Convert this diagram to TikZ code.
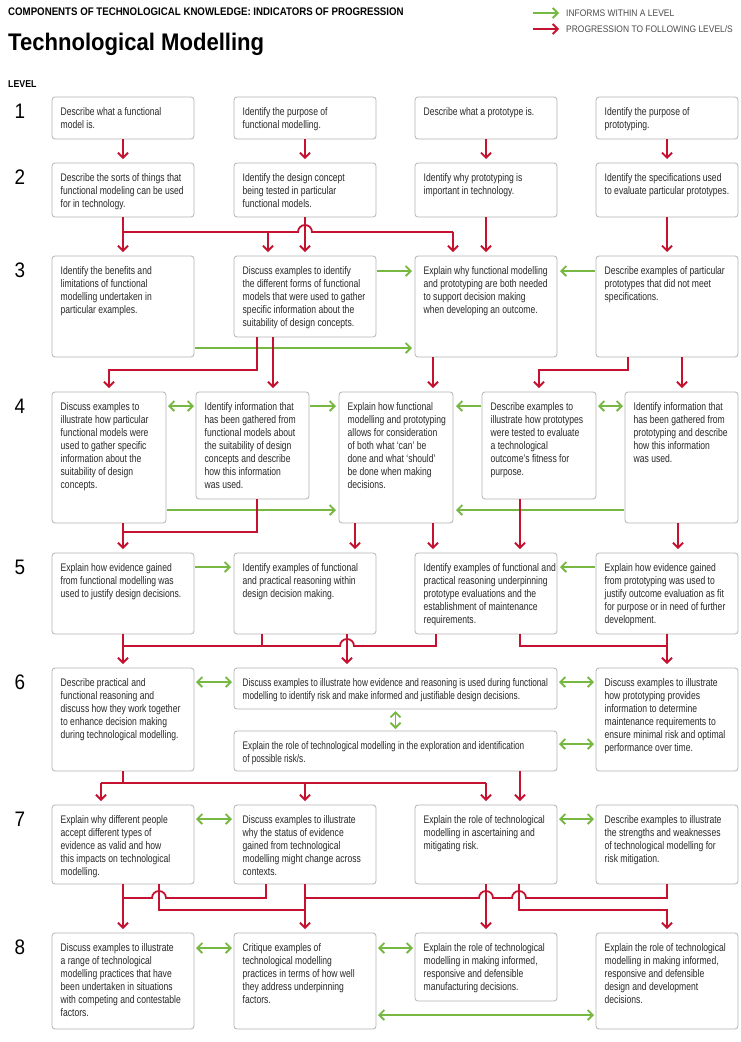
\documentclass[tikz,border=0pt]{standalone}
\usepackage{fontspec}
\setmainfont{Liberation Sans}
\newfontfamily\bodyf{Liberation Sans}[FakeStretch=0.78]
\newfontfamily\bodyn{Liberation Sans}[FakeStretch=0.745]
\newfontfamily\titlef{Liberation Sans}[FakeStretch=0.88]
\newfontfamily\bigf{Liberation Sans}[FakeStretch=0.92]
\newfontfamily\legf{Liberation Sans}[FakeStretch=0.89]
\newfontfamily\numf{Liberation Sans}[FakeStretch=0.9]
\usetikzlibrary{arrows.meta}
\definecolor{tred}{RGB}{196,18,48}
\definecolor{tgreen}{RGB}{118,184,66}
\definecolor{tbord}{RGB}{180,180,180}
\definecolor{ttext}{RGB}{40,40,40}
\newcommand\mybox[6]{%
  \node[box, minimum width=#4pt, minimum height=#5pt] (#1) at (#2,#3) {};
  \node[txt] (#1t) at ([xshift=8.5pt,yshift=-10pt]#1.north west) {#6};}
\newcommand\lvlno[2]{\node[lvlnum] (lv#1) at (20,#2) {#1};}
\newcommand\vdrop[2]{\path #1 coordinate (vd); \draw[ra] (vd) -- (vd |- #2.north);}
\newcommand\gr[3]{\path #2 coordinate (gs); \draw[#1] (gs) -- (gs -| #3);}
\begin{document}
\begin{tikzpicture}[x=1pt,y=-1pt,
 box/.style={draw=tbord, line width=0.8pt, rounded corners=3pt, fill=white, anchor=north west, inner sep=0pt, outer sep=0pt},
 txt/.style={anchor=north west, inner sep=0pt, align=left, font=\bodyf\fontsize{11}{13}\selectfont, text=ttext},
 txtn/.style={txt, font=\bodyn\fontsize{11}{13}\selectfont},
 rl/.style={draw=tred, line width=1.8pt},
 ra/.style={rl, -{Straight Barb[length=5pt,width=10pt]}, shorten >=4pt},
 ga/.style={draw=tgreen, line width=1.8pt, -{Straight Barb[length=5pt,width=10pt]}, shorten >=3pt, shorten <=1pt},
 gd/.style={draw=tgreen, line width=1.8pt, {Straight Barb[length=5pt,width=10pt]}-{Straight Barb[length=5pt,width=10pt]}, shorten >=2pt, shorten <=2pt},
 lvlnum/.style={anchor=base, inner sep=0pt, font=\numf\fontsize{21}{21}\selectfont, text=black},
]
\fill[white] (0,0) rectangle (740,1042);
\useasboundingbox (0,0) rectangle (740,1042);

% headings
\node[anchor=west, inner sep=0pt, font=\titlef\bfseries\fontsize{11}{13}\selectfont] (hd) at (8,12) {COMPONENTS OF TECHNOLOGICAL KNOWLEDGE: INDICATORS OF PROGRESSION};
\node[anchor=base west, inner sep=0pt, font=\bigf\bfseries\fontsize{24}{28}\selectfont] (tt) at (8,50) {Technological Modelling};
\node[anchor=base west, inner sep=0pt, font=\titlef\bfseries\fontsize{10}{12}\selectfont] (lvl) at (8,87) {LEVEL};

% legend
\coordinate (lg1) at (533,13); \coordinate (lg2) at (559,13);
\coordinate (lg3) at (533,29); \coordinate (lg4) at (559,29);
\draw[ga, shorten >=0pt, shorten <=0pt] (lg1) -- (lg2);
\draw[ra, shorten >=0pt] (lg3) -- (lg4);
\node[anchor=west, inner sep=0pt, font=\legf\fontsize{9.5}{11}\selectfont, text=black!70] (lgt1) at (566,13) {INFORMS WITHIN A LEVEL};
\node[anchor=west, inner sep=0pt, font=\legf\fontsize{9.5}{11}\selectfont, text=black!70] (lgt2) at (566,29) {PROGRESSION TO FOLLOWING LEVEL/S};

% level numbers
\lvlno{1}{118.5}
\lvlno{2}{184.5}
\lvlno{3}{277.5}
\lvlno{4}{413.5}
\lvlno{5}{574.5}
\lvlno{6}{689.5}
\lvlno{7}{826.5}
\lvlno{8}{954.5}

% row 1
\mybox{a1}{52}{97}{142}{42}{Describe what a functional\\model is.}
\mybox{b1}{234}{97}{142}{42}{Identify the purpose of\\functional modelling.}
\mybox{c1}{415}{97}{142}{42}{Describe what a prototype is.}
\mybox{d1}{596}{97}{142}{42}{Identify the purpose of\\prototyping.}
% row 2
\mybox{a2}{52}{163}{142}{54}{Describe the sorts of things that\\functional modeling can be used\\for in technology.}
\mybox{b2}{234}{163}{142}{54}{Identify the design concept\\being tested in particular\\functional models.}
\mybox{c2}{415}{163}{142}{54}{Identify why prototyping is\\important in technology.}
\mybox{d2}{596}{163}{142}{54}{Identify the specifications used\\to evaluate particular prototypes.}
% row 3
\mybox{a3}{52}{256}{142}{101}{Identify the benefits and\\limitations of functional\\modelling undertaken in\\particular examples.}
\mybox{b3}{234}{256}{142}{81}{Discuss examples to identify\\the different forms of functional\\models that were used to gather\\specific information about the\\suitability of design concepts.}
\mybox{c3}{415}{256}{142}{101}{Explain why functional modelling\\and prototyping are both needed\\to support decision making\\when developing an outcome.}
\mybox{d3}{596}{256}{142}{101}{Describe examples of particular\\prototypes that did not meet\\specifications.}
% row 4
\mybox{a4}{52}{392}{114}{131}{Discuss examples to\\illustrate how particular\\functional models were\\used to gather specific\\information about the\\suitability of design\\concepts.}
\mybox{b4}{196}{392}{113}{107}{Identify information that\\has been gathered from\\functional models about\\the suitability of design\\concepts and describe\\how this information\\was used.}
\mybox{c4}{339}{392}{114}{131}{Explain how functional\\modelling and prototyping\\allows for consideration\\of both what ‘can’ be\\done and what ‘should’\\be done when making\\decisions.}
\mybox{d4}{482}{392}{114}{107}{Describe examples to\\illustrate how prototypes\\were tested to evaluate\\a technological\\outcome’s fitness for\\purpose.}
\mybox{e4}{625}{392}{113}{131}{Identify information that\\has been gathered from\\prototyping and describe\\how this information\\was used.}
% row 5
\mybox{a5}{52}{553}{142}{81}{Explain how evidence gained\\from functional modelling was\\used to justify design decisions.}
\mybox{b5}{234}{553}{142}{81}{Identify examples of functional\\and practical reasoning within\\design decision making.}
\mybox{c5}{415}{553}{142}{81}{Identify examples of functional and\\practical reasoning underpinning\\prototype evaluations and the\\establishment of maintenance\\requirements.}
\mybox{d5}{596}{553}{142}{81}{Explain how evidence gained\\from prototyping was used to\\justify outcome evaluation as fit\\for purpose or in need of further\\development.}
% row 6
\mybox{a6}{52}{668}{142}{103}{Describe practical and\\functional reasoning and\\discuss how they work together\\to enhance decision making\\during technological modelling.}
\node[box, minimum width=323pt, minimum height=41pt] (m1) at (234,668) {};
\node[txtn] (m1t) at ([xshift=8.5pt,yshift=-10pt]m1.north west) {Discuss examples to illustrate how evidence and reasoning is used during functional\\modelling to identify risk and make informed and justifiable design decisions.};
\node[box, minimum width=323pt, minimum height=40pt] (m2) at (234,731) {};
\node[txtn] (m2t) at ([xshift=8.5pt,yshift=-10pt]m2.north west) {Explain the role of technological modelling in the exploration and identification\\of possible risk/s.};
\mybox{d6}{596}{668}{142}{103}{Discuss examples to illustrate\\how prototyping provides\\information to determine\\maintenance requirements to\\ensure minimal risk and optimal\\performance over time.}
% row 7
\mybox{a7}{52}{805}{142}{79}{Explain why different people\\accept different types of\\evidence as valid and how\\this impacts on technological\\modelling.}
\mybox{b7}{234}{805}{142}{79}{Discuss examples to illustrate\\why the status of evidence\\gained from technological\\modelling might change across\\contexts.}
\mybox{c7}{415}{805}{142}{79}{Explain the role of technological\\modelling in ascertaining and\\mitigating risk.}
\mybox{d7}{596}{805}{142}{79}{Describe examples to illustrate\\the strengths and weaknesses\\of technological modelling for\\risk mitigation.}
% row 8
\mybox{a8}{52}{933}{142}{96}{Discuss examples to illustrate\\a range of technological\\modelling practices that have\\been undertaken in situations\\with competing and contestable\\factors.}
\mybox{b8}{234}{933}{142}{96}{Critique examples of\\technological modelling\\practices in terms of how well\\they address underpinning\\factors.}
\mybox{c8}{415}{933}{142}{68}{Explain the role of technological\\modelling in making informed,\\responsive and defensible\\manufacturing decisions.}
\mybox{d8}{596}{933}{142}{96}{Explain the role of technological\\modelling in making informed,\\responsive and defensible\\design and development\\decisions.}

% ---------- connectors ----------
% 1 -> 2
\draw[ra] (a1.south) -- (a2.north);
\draw[ra] (b1.south) -- (b2.north);
\draw[ra] (c1.south) -- (c2.north);
\draw[ra] (d1.south) -- (d2.north);
% 2 -> 3
\draw[ra] (b2.south) -- (b3.north);
\draw[ra] (c2.south) -- (c3.north);
\draw[ra] (d2.south) -- (d3.north);
\draw[rl] (a2.south) -- ++(0,15) -- (298,232) arc[start angle=180,end angle=0,radius=7pt] -- (453,232) coordinate (k23c);
\draw[ra] (a2.south) -- (a3.north);
\coordinate (k23b) at (268,232);
\draw[ra] (k23b) -- (k23b |- b3.north);
\draw[ra] (k23c) -- (k23c |- c3.north);
% row 3 greens
\gr{ga}{([yshift=-15pt]b3.north east)}{c3.west}
\gr{ga}{([yshift=-15pt]d3.north west)}{c3.east}
\gr{ga}{([yshift=-92pt]a3.north east)}{c3.west}
% 3 -> 4
\draw[ra] ([xshift=-48pt]b3.south) -- ++(0,33) -| (a4.north);
\vdrop{([xshift=-32pt]b3.south)}{b4}
\vdrop{([xshift=-53pt]c3.south)}{c4}
\draw[ra] ([xshift=-39pt]d3.south) -- ++(0,13) -| (d4.north);
\vdrop{([xshift=15pt]d3.south)}{e4}
% row 4 greens
\gr{gd}{([yshift=-14pt]a4.north east)}{b4.west}
\gr{ga}{([yshift=-14pt]b4.north east)}{c4.west}
\gr{ga}{([yshift=-14pt]d4.north west)}{c4.east}
\gr{gd}{([yshift=-14pt]d4.north east)}{e4.west}
\gr{ga}{([yshift=-118pt]a4.north east)}{c4.west}
\gr{ga}{([yshift=-118pt]e4.north west)}{c4.east}
% 4 -> 5
\draw[rl] ([xshift=4.5pt]b4.south) -- ++(0,33) -- ++(-134.5,0);
\draw[ra] ([xshift=14pt]a4.south) -- (a5.north);
\vdrop{([xshift=-41pt]c4.south)}{b5}
\vdrop{([xshift=37pt]c4.south)}{c5}
\vdrop{([xshift=-19pt]d4.south)}{c5}
\vdrop{([xshift=-3.5pt]e4.south)}{d5}
% row 5 greens
\gr{ga}{([yshift=-14pt]a5.north east)}{b5.west}
\gr{ga}{([yshift=-14pt]d5.north west)}{c5.east}
% 5 -> 6
\vdrop{([xshift=42pt]b5.south)}{m1}
\draw[rl] ([xshift=-50pt]c5.south) -- ++(0,12) -- (354,646) arc[start angle=0,end angle=180,radius=7pt] -- (123,646);
\draw[rl] ([xshift=-43pt]b5.south) -- ++(0,12);
\draw[ra] (a5.south) -- (a6.north);
\draw[ra] ([xshift=34pt]c5.south) -- ++(0,12) -| (d6.north);
\draw[rl] (d5.south) -- ++(0,12);
% row 6 greens
\gr{gd}{([yshift=-14pt]a6.north east)}{m1.west}
\gr{gd}{([yshift=-14pt]m1.north east)}{d6.west}
\gr{gd}{([yshift=-13pt]m2.north east)}{d6.west}
\draw[gd] (m1.south) -- (m2.north);
% 6 -> 7
\coordinate (h6l) at (101,783);
\coordinate (h6r) at (486,783);
\draw[rl] (a6.south) -- (a6.south |- h6l);
\draw[rl] (h6l) -- (h6r);
\draw[ra] (h6l) -- (h6l |- a7.north);
\draw[ra] (h6l -| b7.north) -- (b7.north);
\draw[ra] (h6r) -- (c7.north);
\vdrop{([xshift=124.5pt]m2.south)}{c7}
% row 7 greens
\gr{gd}{([yshift=-14pt]a7.north east)}{b7.west}
\gr{gd}{([yshift=-14pt]c7.north east)}{d7.west}
% 7 -> 8
\draw[ra] (a7.south) -- (a8.north);
\draw[ra] (b7.south) -- (b8.north);
\draw[ra] (c7.south) -- (c8.north);
\draw[rl] ([xshift=36pt]a7.south) -- ++(0,26) -- ++(146,0);
\draw[rl] ([xshift=-39pt]b7.south) -- ++(0,14) -- (166,898) arc[start angle=0,end angle=180,radius=7pt] -- (123,898);
\draw[ra] ([xshift=33pt]c7.south) -- ++(0,26) -| (d8.north);
\draw[rl] (d7.south) -- ++(0,14) -- (526,898) arc[start angle=0,end angle=180,radius=7pt] -- (493,898) arc[start angle=0,end angle=180,radius=7pt] -- (305,898);
% row 8 greens
\gr{gd}{([yshift=-15pt]a8.north east)}{b8.west}
\gr{gd}{([yshift=-15pt]b8.north east)}{c8.west}
\gr{gd}{([yshift=-82pt]b8.north east)}{d8.west}
\end{tikzpicture}
\end{document}
